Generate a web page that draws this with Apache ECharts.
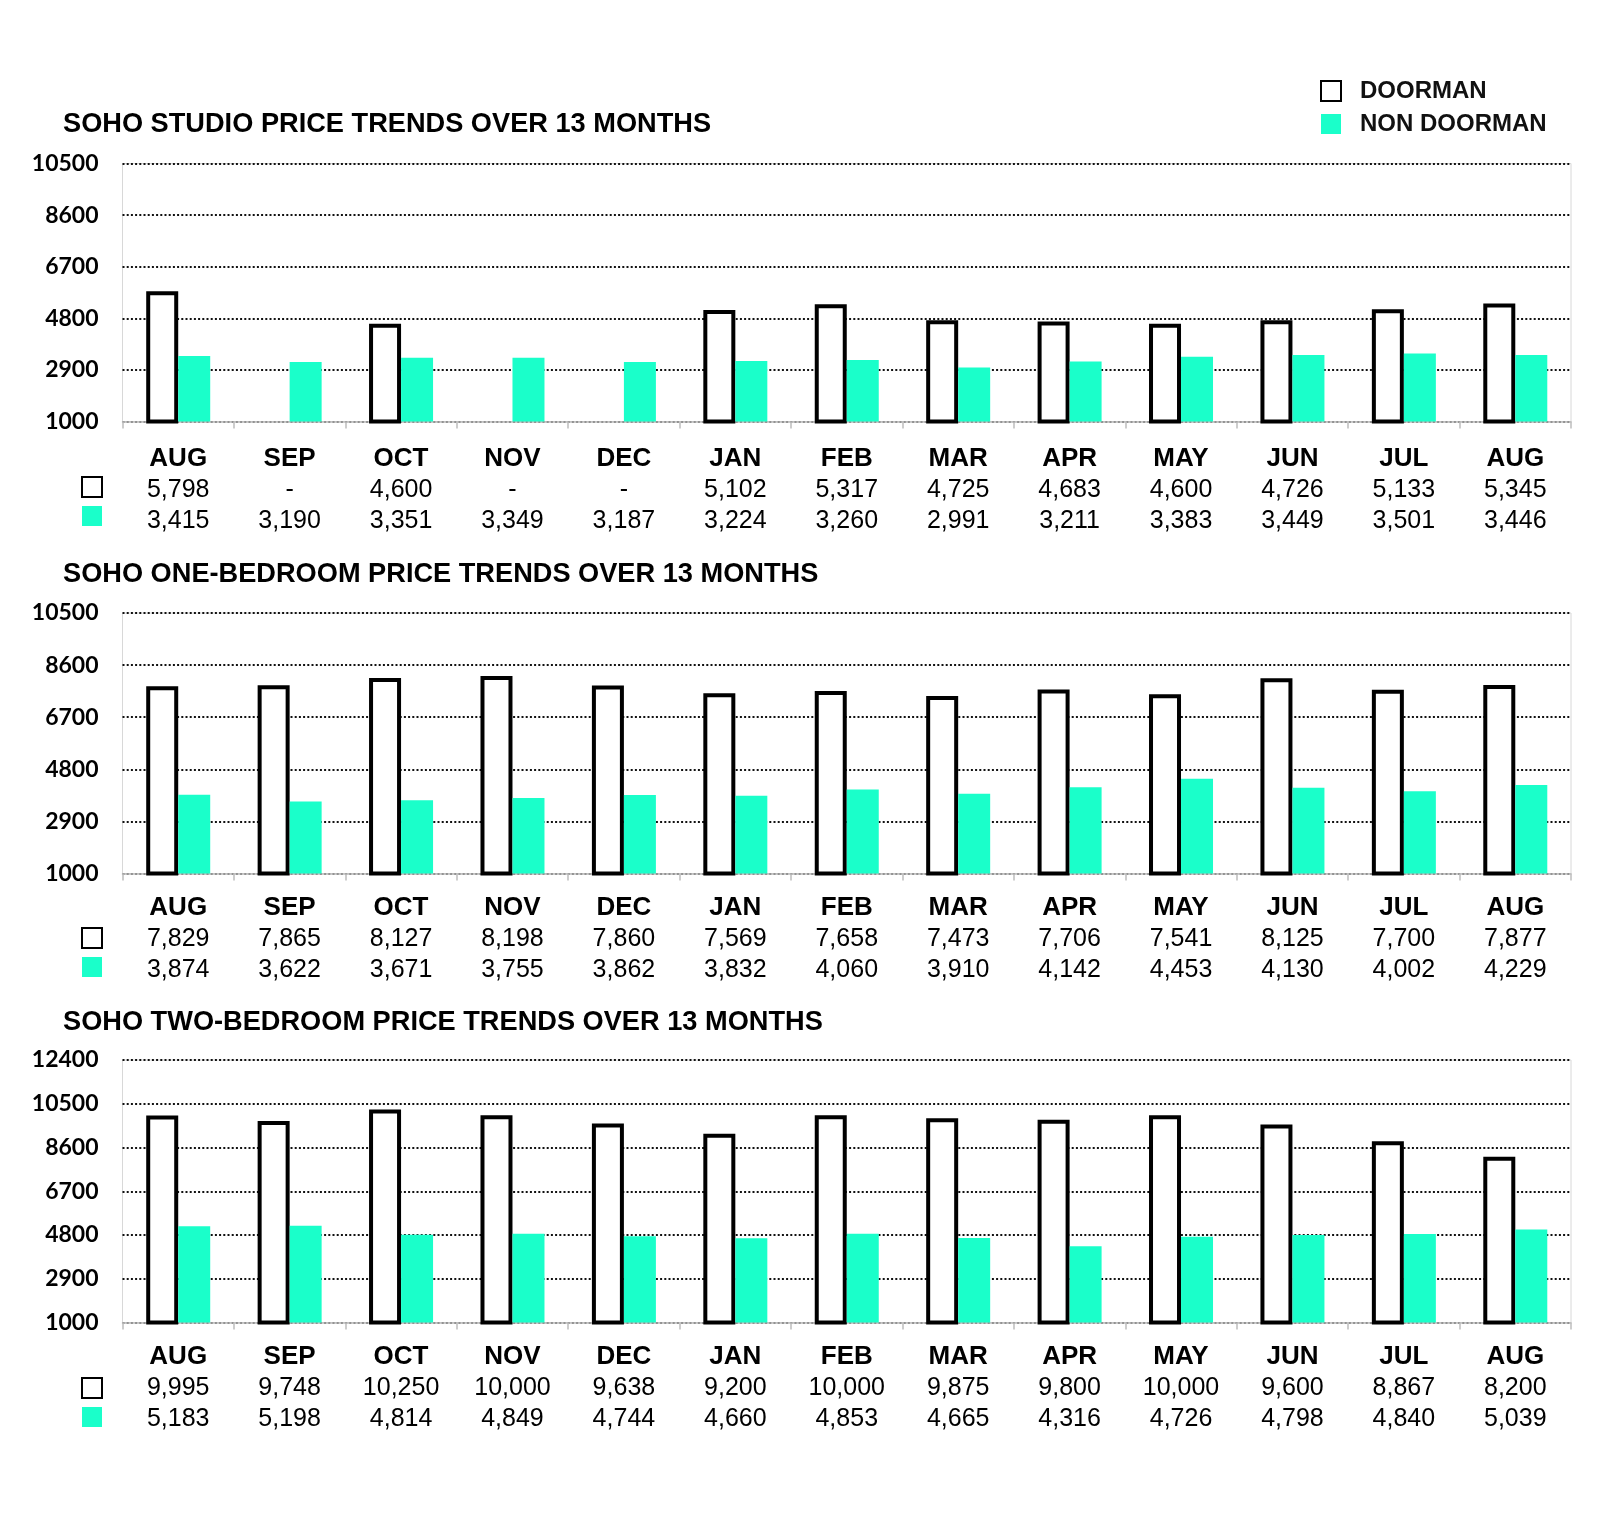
<!DOCTYPE html>
<html>
<head>
<meta charset="utf-8">
<script src="https://cdn.jsdelivr.net/npm/echarts@6/dist/echarts.min.js"></script>
<style>
html,body{margin:0;padding:0;background:#fff;}
#c{width:1600px;height:1513px;}
</style>
</head>
<body>
<div id="c"></div>
<script>
const months = ['AUG','SEP','OCT','NOV','DEC','JAN','FEB','MAR','APR','MAY','JUN','JUL','AUG'];
const seriesNames = ['DOORMAN','NON DOORMAN'];
const titles = [
  'SOHO STUDIO PRICE TRENDS OVER 13 MONTHS',
  'SOHO ONE-BEDROOM PRICE TRENDS OVER 13 MONTHS',
  'SOHO TWO-BEDROOM PRICE TRENDS OVER 13 MONTHS'
];
const studioDoorman = [5798, null, 4600, null, null, 5102, 5317, 4725, 4683, 4600, 4726, 5133, 5345];
const studioNonDoorman = [3415, 3190, 3351, 3349, 3187, 3224, 3260, 2991, 3211, 3383, 3449, 3501, 3446];
const oneBedDoorman = [7829, 7865, 8127, 8198, 7860, 7569, 7658, 7473, 7706, 7541, 8125, 7700, 7877];
const oneBedNonDoorman = [3874, 3622, 3671, 3755, 3862, 3832, 4060, 3910, 4142, 4453, 4130, 4002, 4229];
const twoBedDoorman = [9995, 9748, 10250, 10000, 9638, 9200, 10000, 9875, 9800, 10000, 9600, 8867, 8200];
const twoBedNonDoorman = [5183, 5198, 4814, 4849, 4744, 4660, 4853, 4665, 4316, 4726, 4798, 4840, 5039];
const yMin = 1000;
const yInterval = 1900;
const yMaxes = [10500, 10500, 12400];

const panels = [
  {doorman: studioDoorman, non: studioNonDoorman},
  {doorman: oneBedDoorman, non: oneBedNonDoorman},
  {doorman: twoBedDoorman, non: twoBedNonDoorman}
];

// layout (pixels)
const layout = [
  {top: 163.5, height: 258, titleTop: 111.5, labelMargin: 22, iconTop: 476},
  {top: 613, height: 260.5, titleTop: 561, labelMargin: 19, iconTop: 927},
  {top: 1060, height: 262.5, titleTop: 1009, labelMargin: 19, iconTop: 1377}
];
const CYAN = '#1affca';
const FONT = 'Liberation Sans, Arial, sans-serif';
const fmt = v => v == null ? '-' : v.toLocaleString('en-US');

const option = {
  animation: false,
  backgroundColor: '#fff',
  title: [],
  legend: [],
  grid: [],
  xAxis: [],
  yAxis: [],
  series: []
};

// Top-right legend
option.legend.push({
  orient: 'vertical',
  left: 1320, top: 79, padding: 0,
  itemWidth: 20, itemHeight: 20, itemGap: 9,
  selectedMode: false,
  icon: 'rect',
  textStyle: {fontFamily: FONT, fontWeight: 'bold', fontSize: 24, color: '#111', padding: [0,0,0,14]},
  data: [
    {name: 'DOORMAN', itemStyle: {color: '#fff', borderColor: '#000', borderWidth: 2}},
    {name: 'NON DOORMAN', itemStyle: {color: CYAN, borderWidth: 0}}
  ]
});

panels.forEach((p, i) => {
  const L = layout[i];
  option.title.push({
    text: titles[i], left: 63, top: L.titleTop, padding: 0,
    textStyle: {fontFamily: FONT, fontWeight: 'bold', fontSize: 27.2, color: '#000'}
  });
  // row-icon legend for the value table
  option.legend.push({
    orient: 'vertical',
    left: 81, top: L.iconTop, padding: 0,
    itemWidth: 20, itemHeight: 20, itemGap: 8,
    selectedMode: false, icon: 'rect',
    formatter: () => '',
    textStyle: {fontSize: 1},
    data: [
      {name: 'DOORMAN', itemStyle: {color: '#fff', borderColor: '#000', borderWidth: 2}},
      {name: 'NON DOORMAN', itemStyle: {color: CYAN, borderWidth: 0}}
    ]
  });
  option.grid.push({
    left: 122.5, right: 29, top: L.top, height: L.height,
    show: true, borderColor: '#d8d8d8', borderWidth: 1, backgroundColor: 'transparent'
  });
  option.xAxis.push({
    type: 'category', gridIndex: i,
    data: months,
    axisLine: {show: true, lineStyle: {color: '#bdbdbd', width: 1.5}},
    axisTick: {show: true, length: 7, lineStyle: {color: '#bdbdbd', width: 1.5}},
    axisLabel: {
      interval: 0, margin: L.labelMargin,
      formatter: (val, k) => '{c|' + val + '}\n{v|' + fmt(p.doorman[k]) + '}\n{v|' + fmt(p.non[k]) + '}',
      rich: {
        c: {fontFamily: FONT, fontWeight: 'bold', fontSize: 26, lineHeight: 31, color: '#000'},
        v: {fontFamily: FONT, fontWeight: 'normal', fontSize: 25, lineHeight: 31, color: '#000'}
      }
    }
  });
  option.yAxis.push({
    type: 'value', gridIndex: i,
    min: yMin, max: yMaxes[i], interval: yInterval,
    axisLine: {show: false}, axisTick: {show: false},
    splitLine: {show: true, lineStyle: {color: '#111', type: [2, 2.2], width: 2}},
    axisLabel: {margin: 24, fontFamily: 'Lato, sans-serif', fontWeight: 'bold', fontSize: 23, color: '#000',
      formatter: v => String(v)}
  });
  option.series.push({
    name: 'DOORMAN', type: 'bar', xAxisIndex: i, yAxisIndex: i,
    barWidth: 32, barGap: '0%', startValue: yMin,
    itemStyle: {color: '#fff', borderColor: '#000', borderWidth: 4},
    data: p.doorman.map(v => v == null ? yMin : v)
  });
  option.series.push({
    name: 'NON DOORMAN', type: 'bar', xAxisIndex: i, yAxisIndex: i,
    barWidth: 32, barGap: '0%', startValue: yMin,
    itemStyle: {color: CYAN},
    data: p.non
  });
});

const chart = echarts.init(document.getElementById('c'), null, {renderer: 'canvas'});
chart.setOption(option);
</script>
</body>
</html>
